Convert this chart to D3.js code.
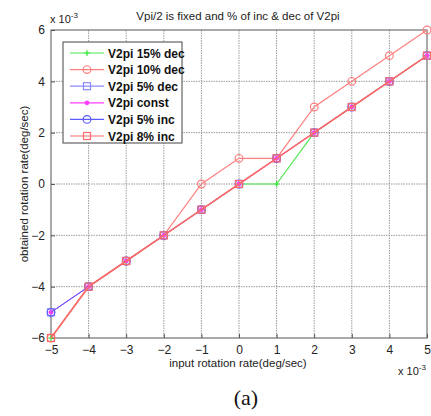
<!DOCTYPE html>
<html>
<head>
<meta charset="utf-8">
<script src="https://cdn.jsdelivr.net/npm/d3@7"></script>
<style>
body { margin: 0; background: #fff; }
svg text { font-family: Arial, "Liberation Sans", sans-serif; }
</style>
</head>
<body>
<div id="chart"></div>
<script>
// input rotation rate (x 10^-3)
var xVals = [-5, -4, -3, -2, -1, 0, 1, 2, 3, 4, 5];
// obtained rotation rate (x 10^-3) for each series
var dec15 = [-6, -4, -3, -2, -1, 0, 0, 2, 3, 4, 5];
var dec10 = [-6, -4, -3, -2, 0, 1, 1, 3, 4, 5, 6];
var dec5 = [-5, -4, -3, -2, -1, 0, 1, 2, 3, 4, 5];
var constV = [-5, -4, -3, -2, -1, 0, 1, 2, 3, 4, 5];
var inc5 = [-5, -4, -3, -2, -1, 0, 1, 2, 3, 4, 5];
var inc8 = [-6, -4, -3, -2, -1, 0, 1, 2, 3, 4, 5];
var seriesNames = ["V2pi 15% dec", "V2pi 10% dec", "V2pi 5% dec", "V2pi const", "V2pi 5% inc", "V2pi 8% inc"];
var xTicks = [-5, -4, -3, -2, -1, 0, 1, 2, 3, 4, 5];
var yTicks = [-6, -4, -2, 0, 2, 4, 6];

var series = [
  {name: seriesNames[0], vals: dec15, color: "#4de84d", marker: "plus", lw: 1.2},
  {name: seriesNames[1], vals: dec10, color: "#ff7f7f", marker: "circle", lw: 1.2},
  {name: seriesNames[2], vals: dec5, color: "#8a8aff", marker: "square", lw: 1},
  {name: seriesNames[3], vals: constV, color: "#ff3cff", marker: "dot", lw: 1},
  {name: seriesNames[4], vals: inc5, color: "#5a5aff", marker: "circle", lw: 1},
  {name: seriesNames[5], vals: inc8, color: "#ff6a6a", marker: "square", lw: 1.6}
];

var svg = d3.select("#chart").append("svg")
  .attr("width", 431)
  .attr("height", 416);

var margin = {left: 51, top: 30, right: 4, bottom: 78};
var width = 431 - margin.left - margin.right;
var height = 416 - margin.top - margin.bottom;

var x = d3.scaleLinear().domain([-5, 5]).range([0, width]);
var y = d3.scaleLinear().domain([-6, 6]).range([height, 0]);

var g = svg.append("g").attr("transform", `translate(${margin.left}, ${margin.top})`);

// grid
g.selectAll("line.gx").data(xTicks.slice(1, -1)).enter().append("line")
  .attr("x1", d => x(d)).attr("x2", d => x(d))
  .attr("y1", 0).attr("y2", height)
  .attr("stroke", "#9a9a9a").attr("stroke-width", 1).attr("stroke-dasharray", "1.5,1");
g.selectAll("line.gy").data(yTicks.slice(1, -1)).enter().append("line")
  .attr("x1", 0).attr("x2", width)
  .attr("y1", d => y(d)).attr("y2", d => y(d))
  .attr("stroke", "#9a9a9a").attr("stroke-width", 1).attr("stroke-dasharray", "1.5,1");

// axes
var bottomAxis = d3.axisBottom(x).tickValues(xTicks).tickSize(-4).tickPadding(7);
var leftAxis = d3.axisLeft(y).tickValues(yTicks).tickSize(-4).tickPadding(6);
var bx = g.append("g").attr("transform", `translate(0, ${height})`).call(bottomAxis);
var ly = g.append("g").call(leftAxis);
[bx, ly].forEach(function(a) {
  a.select(".domain").remove();
  a.selectAll("line").attr("stroke", "#555");
  a.selectAll("text").attr("font-size", 12).attr("fill", "#222")
    .style("font-family", "Arial, 'Liberation Sans', sans-serif");
});

// frame
g.append("rect").attr("x", 0).attr("y", 0).attr("width", width).attr("height", height)
  .attr("fill", "none").attr("stroke", "#555").attr("stroke-width", 1);

// lines and markers
var line = d3.line().x((d, i) => x(xVals[i])).y(d => y(d));

function drawMarker(sel, type, color, size) {
  if (type === "circle") {
    sel.append("circle").attr("r", size * 0.55).attr("fill", "none").attr("stroke", color).attr("stroke-width", 1.2);
  } else if (type === "square") {
    sel.append("rect").attr("x", -size / 2).attr("y", -size / 2).attr("width", size).attr("height", size)
      .attr("fill", "none").attr("stroke", color).attr("stroke-width", 1.2);
  } else if (type === "plus") {
    sel.append("path").attr("d", `M${-size / 2},0H${size / 2}M0,${-size / 2}V${size / 2}`)
      .attr("stroke", color).attr("stroke-width", 1.2);
    sel.append("circle").attr("r", 1.5).attr("fill", color);
  } else if (type === "dot") {
    sel.append("circle").attr("r", 2.4).attr("fill", color);
  }
}

series.forEach(function(s) {
  g.append("path").datum(s.vals)
    .attr("d", line)
    .attr("fill", "none")
    .attr("stroke", s.color)
    .attr("stroke-width", s.lw);
  var pts = g.selectAll(null).data(s.vals).enter().append("g")
    .attr("transform", (d, i) => `translate(${x(xVals[i])}, ${y(d)})`);
  drawMarker(pts, s.marker, s.color, s.marker === "plus" ? 6 : 7);
});

// legend
var leg = g.append("g").attr("transform", "translate(12, 12)");
leg.append("rect").attr("x", 0).attr("y", 0).attr("width", 119).attr("height", 101)
  .attr("fill", "#fff").attr("stroke", "#444").attr("stroke-width", 1);
series.forEach(function(s, i) {
  var yy = 11 + i * 16.6;
  leg.append("line").attr("x1", 7).attr("x2", 41).attr("y1", yy).attr("y2", yy)
    .attr("stroke", s.color).attr("stroke-width", 1.2);
  var m = leg.append("g").attr("transform", `translate(24, ${yy})`);
  drawMarker(m, s.marker, s.color, s.marker === "plus" ? 6 : 7);
  leg.append("text").attr("x", 45).attr("y", yy + 4.5)
    .attr("font-size", 12).attr("font-weight", "bold").attr("fill", "#111")
    .text(s.name);
});

// title and labels
svg.append("text").attr("x", 238).attr("y", 20).attr("text-anchor", "middle")
  .attr("font-size", 11.5).attr("fill", "#222")
  .text("Vpi/2 is fixed and % of inc & dec of V2pi");

var sx1 = svg.append("text").attr("x", 50).attr("y", 23).attr("font-size", 11).attr("fill", "#222");
sx1.append("tspan").text("x 10");
sx1.append("tspan").attr("dy", -5).attr("font-size", 8).text("-3");

var sx2 = svg.append("text").attr("x", 398).attr("y", 375).attr("font-size", 11).attr("fill", "#222");
sx2.append("tspan").text("x 10");
sx2.append("tspan").attr("dy", -5).attr("font-size", 8).text("-3");

svg.append("text").attr("x", 238).attr("y", 367).attr("text-anchor", "middle")
  .attr("font-size", 11.5).attr("fill", "#222")
  .text("input rotation rate(deg/sec)");

svg.append("text").attr("transform", `translate(28, ${margin.top + height / 2}) rotate(-90)`)
  .attr("text-anchor", "middle")
  .attr("font-size", 11.5).attr("fill", "#222")
  .text("obtained rotation rate(deg/sec)");

svg.append("text").attr("x", 246).attr("y", 405).attr("text-anchor", "middle")
  .attr("font-size", 22).attr("fill", "#111")
  .style("font-family", "'Liberation Serif', 'DejaVu Serif', serif")
  .text("(a)");
</script>
</body>
</html>
